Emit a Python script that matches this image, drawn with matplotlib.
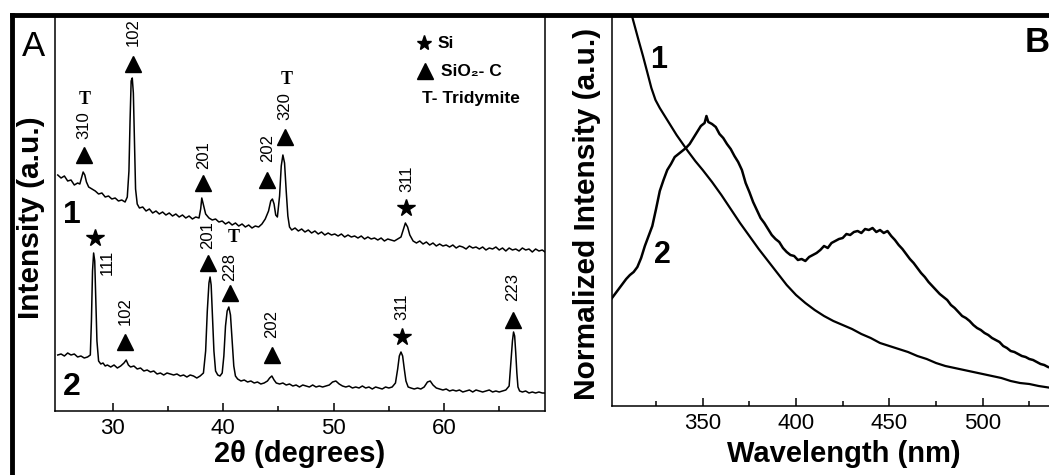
import matplotlib
matplotlib.use('Agg')
import matplotlib.pyplot as plt
from matplotlib.lines import Line2D

plt.rcParams['font.family'] = ['Liberation Sans', 'DejaVu Sans']
plt.rcParams['font.size'] = 14

# ---- Panel A: XRD patterns (intensity in a.u.) ----
two_theta_1 = [25.0, 25.3, 25.6, 25.9, 26.2, 26.5, 26.8, 27.0, 27.15, 27.3, 27.45, 27.6, 27.8, 28.1,
               28.4, 28.7, 29.0, 29.3, 29.6, 29.9, 30.2, 30.5, 30.8, 31.1, 31.3, 31.45, 31.55, 31.65,
               31.75, 31.85, 31.95, 32.05, 32.2, 32.4, 32.7, 33.0, 33.3, 33.6, 33.9, 34.2, 34.5, 34.8,
               35.1, 35.4, 35.7, 36.0, 36.3, 36.6, 36.9, 37.2, 37.5, 37.8, 37.95, 38.05, 38.2, 38.4,
               38.7, 39.0, 39.3, 39.6, 39.9, 40.2, 40.5, 40.8, 41.1, 41.4, 41.7, 42.0, 42.3, 42.6,
               42.9, 43.2, 43.5, 43.8, 44.1, 44.3, 44.45, 44.6, 44.75, 44.9, 45.1, 45.25, 45.4, 45.55,
               45.7, 45.85, 46.0, 46.2, 46.5, 46.8, 47.1, 47.4, 47.7, 48.0, 48.3, 48.6, 48.9, 49.2,
               49.5, 49.8, 50.1, 50.4, 50.7, 51.0, 51.3, 51.6, 51.9, 52.2, 52.5, 52.8, 53.1, 53.4,
               53.7, 54.0, 54.3, 54.6, 54.9, 55.2, 55.5, 55.8, 56.1, 56.3, 56.5, 56.7, 56.9, 57.2,
               57.5, 57.8, 58.1, 58.4, 58.7, 59.0, 59.3, 59.6, 59.9, 60.2, 60.5, 60.8, 61.1, 61.4,
               61.7, 62.0, 62.3, 62.6, 62.9, 63.2, 63.5, 63.8, 64.1, 64.4, 64.7, 65.0, 65.3, 65.6,
               65.9, 66.2, 66.5, 66.8, 67.1, 67.4, 67.7, 68.0, 68.3, 68.6, 68.9, 69.15]
intensity_1 = [236, 233, 235, 230, 231, 226, 228, 227, 233, 239, 236, 229, 224, 222,
               220, 217, 218, 214, 215, 212, 213, 210, 211, 209, 214, 240, 290, 330,
               333, 318, 270, 222, 207, 203, 204, 200, 202, 198, 200, 197, 199, 196,
               198, 195, 197, 194, 196, 193, 195, 192, 194, 193, 202, 213, 206, 197,
               193, 191, 192, 189, 190, 187, 189, 186, 188, 185, 187, 184, 186, 183,
               185, 184, 187, 192, 200, 210, 212, 207, 196, 194, 215, 245, 256, 248,
               220, 195, 184, 181, 183, 180, 182, 179, 181, 178, 180, 177, 179, 176,
               178, 176, 177, 175, 177, 174, 176, 174, 175, 173, 175, 172, 174, 172,
               173, 171, 173, 170, 172, 171, 170, 172, 174, 181, 188, 184, 176, 170,
               168, 170, 167, 169, 166, 168, 165, 167, 165, 166, 164, 166, 163, 165,
               164, 162, 165, 163, 164, 162, 164, 161, 163, 162, 164, 161, 163, 160,
               163, 161, 162, 160, 163, 161, 162, 159, 162, 160, 161, 159]

two_theta_2 = [25.0, 25.3, 25.6, 25.9, 26.2, 26.5, 26.8, 27.1, 27.4, 27.7, 27.95, 28.05, 28.15, 28.25,
               28.35, 28.45, 28.55, 28.7, 28.9, 29.1, 29.3, 29.5, 29.8, 30.1, 30.4, 30.7, 31.0, 31.2,
               31.4, 31.6, 31.9, 32.2, 32.5, 32.8, 33.1, 33.4, 33.7, 34.0, 34.3, 34.6, 34.9, 35.2,
               35.5, 35.8, 36.1, 36.4, 36.7, 37.0, 37.3, 37.6, 37.9, 38.2, 38.4, 38.55, 38.7, 38.8,
               38.9, 39.0, 39.15, 39.3, 39.5, 39.7, 39.9, 40.05, 40.2, 40.35, 40.5, 40.65, 40.8, 40.95,
               41.1, 41.3, 41.6, 41.9, 42.2, 42.5, 42.8, 43.1, 43.4, 43.7, 44.0, 44.2, 44.4, 44.6,
               44.8, 45.1, 45.4, 45.7, 46.0, 46.3, 46.6, 46.9, 47.2, 47.5, 47.8, 48.1, 48.4, 48.7,
               49.0, 49.3, 49.6, 49.9, 50.2, 50.5, 50.8, 51.1, 51.4, 51.7, 52.0, 52.3, 52.6, 52.9,
               53.2, 53.5, 53.8, 54.1, 54.4, 54.7, 55.0, 55.3, 55.6, 55.8, 55.95, 56.1, 56.25, 56.4,
               56.55, 56.75, 57.0, 57.3, 57.6, 57.9, 58.2, 58.5, 58.75, 59.0, 59.3, 59.6, 59.9, 60.2,
               60.5, 60.8, 61.1, 61.4, 61.7, 62.0, 62.3, 62.6, 62.9, 63.2, 63.5, 63.8, 64.1, 64.4,
               64.7, 65.0, 65.3, 65.6, 65.9, 66.05, 66.2, 66.3, 66.4, 66.5, 66.6, 66.7, 66.85, 67.1,
               67.4, 67.7, 68.0, 68.3, 68.6, 68.9, 69.15]
intensity_2 = [56, 57, 55, 58, 56, 57, 54, 55, 53, 54, 56, 90, 140, 158,
               150, 110, 70, 50, 47, 48, 45, 46, 44, 46, 43, 45, 48, 51,
               46, 44, 45, 42, 43, 40, 41, 39, 40, 37, 38, 36, 38, 37,
               36, 37, 35, 36, 34, 36, 35, 33, 35, 38, 60, 100, 128, 134,
               126, 100, 60, 40, 36, 35, 38, 55, 85, 100, 104, 96, 70, 45,
               35, 32, 30, 31, 29, 30, 28, 29, 27, 28, 30, 33, 35, 31,
               28, 27, 28, 26, 27, 25, 26, 24, 26, 25, 24, 26, 24, 25,
               24, 25, 26, 29, 30, 27, 25, 24, 25, 23, 24, 23, 25, 23,
               24, 22, 24, 23, 22, 24, 23, 24, 28, 42, 55, 59, 55, 42,
               30, 24, 23, 22, 23, 22, 24, 29, 30, 26, 23, 22, 21, 22,
               20, 21, 20, 21, 19, 20, 21, 19, 21, 20, 19, 20, 21, 19,
               20, 19, 20, 21, 25, 48, 70, 79, 75, 58, 38, 24, 20, 19,
               20, 18, 19, 18, 19, 18, 18]

# peak labels: (2theta, marker height, text, text height)
peaks_1 = [(27.35, 256, '310', 286), (31.8, 347, '102', 379), (38.2, 228, '201', 256),
           (44.0, 231, '202', 263), (45.6, 274, '320', 305)]
si_peaks_1 = [(56.6, 203, '311', 232)]
peaks_2 = [(31.1, 69, '102', 100), (38.6, 148, '201', 176), (40.6, 118, '228', 144),
           (44.4, 56, '202', 87), (66.25, 91, '223', 124)]
si_peaks_2 = [(28.35, 173, '111', 149), (56.15, 74, '311', 104)]
tridymite_marks = [(27.45, 311), (45.75, 331), (40.95, 173)]

# ---- Panel B: normalized PL spectra ----
wl_1 = [310, 312.4, 315.6, 318, 320.4, 322.5, 324.7, 327, 330, 333, 336, 339, 342, 346, 350, 355,
        360, 365, 370, 375, 380, 385, 390, 395, 400, 405, 410, 415, 420, 425, 430, 435, 440,
        445, 450, 455, 460, 465, 470, 475, 480, 485, 490, 495, 500, 505, 510, 515, 520, 525,
        530, 537]
pl_1 = [405, 388, 366, 350, 333, 318, 306, 298, 289, 280, 271, 263, 255, 245, 236, 224,
        211, 197, 183, 170, 157, 145, 133, 121, 111, 103, 96, 90, 85, 81, 77, 72, 68,
        63, 60, 57, 54, 50, 47, 43, 40, 38, 36, 34, 32, 30, 28, 25, 23, 22,
        20, 18]

wl_2 = [301, 303, 305, 307, 309, 311, 313, 315, 317, 319, 321, 323, 325, 327, 329, 331, 333, 335,
        337, 339, 341, 343, 345, 347, 349, 351, 352, 353, 355, 357, 359, 361, 363, 365, 367, 369,
        371, 373, 375, 377, 379, 381, 383, 385, 387, 389, 391, 393, 395, 397, 399, 401, 403, 405,
        407, 409, 411, 413, 415, 417, 419, 421, 423, 425, 427, 429, 431, 433, 435, 437, 439, 441,
        443, 445, 447, 449, 451, 453, 455, 457, 459, 461, 463, 465, 467, 469, 471, 473, 475, 477,
        479, 481, 483, 485, 487, 489, 491, 493, 495, 497, 499, 501, 503, 505, 507, 509, 511, 513,
        515, 517, 519, 521, 523, 525, 527, 529, 531, 533, 535, 537]
pl_2 = [107, 112, 117, 122, 127, 131, 134, 139, 148, 160, 170, 180, 197, 215, 226, 236, 242, 249,
        252, 255, 258, 262, 268, 274, 280, 283, 290, 284, 282, 279, 272, 268, 262, 257, 250, 244,
        236, 223, 214, 204, 196, 188, 183, 177, 171, 167, 164, 158, 154, 151, 150, 146, 147, 145,
        149, 151, 153, 156, 160, 158, 163, 165, 167, 168, 172, 171, 174, 175, 173, 177, 176, 178,
        174, 176, 173, 175, 170, 166, 161, 157, 152, 147, 143, 138, 133, 129, 124, 120, 116, 112,
        109, 106, 101, 98, 94, 90, 88, 85, 81, 78, 76, 73, 71, 68, 66, 64, 60, 58,
        55, 54, 52, 50, 49, 47, 46, 44, 42, 41, 39, 38]

W, H = 1049, 475
fig = plt.figure(figsize=(W / 100, H / 100), dpi=100)


def px_box(l, t, r, b):
    return [l / W, 1 - b / H, (r - l) / W, (b - t) / H]


axA = fig.add_axes(px_box(55, 16, 545, 411))
axB = fig.add_axes(px_box(612, 16, 1076, 406))

# XRD curves
axA.plot(two_theta_1, intensity_1, color='black', lw=1.1)
axA.plot(two_theta_2, intensity_2, color='black', lw=1.1)
axA.set_xlim(24.75, 69.15)
axA.set_ylim(0, 395)

for x, ym, txt, yt in peaks_1 + peaks_2:
    axA.plot(x, ym, marker='^', ms=12, color='black', ls='none')
    axA.text(x, yt, txt, rotation=90, ha='center', va='center', fontsize=12)
for x, ym, txt, yt in si_peaks_1 + si_peaks_2:
    axA.plot(x, ym, marker='*', ms=13, color='black', ls='none')
    if txt == '111':
        axA.text(x + 1.1, yt, txt, rotation=90, ha='center', va='center', fontsize=12)
    else:
        axA.text(x, yt, txt, rotation=90, ha='center', va='center', fontsize=12)
for x, y in tridymite_marks:
    axA.text(x, y, 'T', ha='center', va='center', fontsize=13, fontweight='bold',
             family='Liberation Serif')

# legend box of panel A
axA.plot(58.2, 368, marker='*', ms=11, color='black', ls='none')
axA.text(59.45, 368, 'Si', ha='left', va='center', fontsize=12.5, fontweight='bold')
axA.plot(58.3, 340, marker='^', ms=11, color='black', ls='none')
axA.text(59.75, 340, 'SiO\u2082- C', ha='left', va='center', fontsize=12.5, fontweight='bold')
axA.text(58.0, 313, 'T- Tridymite', ha='left', va='center', fontsize=12.5, fontweight='bold')

axA.text(26.3, 196, '1', ha='center', va='center', fontsize=23, fontweight='bold')
axA.text(26.3, 24, '2', ha='center', va='center', fontsize=23, fontweight='bold')

axA.set_xticks([30, 40, 50, 60])
axA.set_xticks([35, 45, 55, 65], minor=True)
axA.set_yticks([])

# PL curves
axB.plot(wl_1, pl_1, color='black', lw=1.6)
axB.plot(wl_2, pl_2, color='black', lw=1.8)
axB.set_xlim(301.4, 550)
axB.set_ylim(0, 390)
axB.set_xticks([350, 400, 450, 500])
axB.set_xticks([325, 375, 425, 475, 525], minor=True)
axB.set_yticks([])
axB.text(326.6, 346, '1', ha='center', va='center', fontsize=22, fontweight='bold')
axB.text(328.2, 151, '2', ha='center', va='center', fontsize=22, fontweight='bold')
axB.text(529, 364, 'B', ha='center', va='center', fontsize=25, fontweight='bold')
axB.spines['right'].set_visible(False)

for ax in (axA, axB):
    ax.tick_params(axis='x', which='major', direction='in', length=6, width=1.1,
                   labelsize=16, pad=5)
    ax.tick_params(axis='x', which='minor', direction='in', length=3.5, width=1.1)
    for s in ax.spines.values():
        s.set_linewidth(1.1)

axA.set_xlabel('2\u03b8 (degrees)', fontsize=21, fontweight='bold')
axA.xaxis.set_label_coords(0.5, -29 / 395)
axB.set_xlabel('Wavelength (nm)', fontsize=21, fontweight='bold')
axB.xaxis.set_label_coords(0.5, -34 / 390)

fig.text(31 / W, 1 - 218 / H, 'Intensity (a.u.)', rotation=90, ha='center', va='center',
         fontsize=21.5, fontweight='bold')
fig.text(587 / W, 1 - 214 / H, 'Normalized Intensity (a.u.)', rotation=90, ha='center',
         va='center', fontsize=21.5, fontweight='bold')
fig.text(33 / W, 1 - 47 / H, 'A', ha='center', va='center', fontsize=25)

# outer frame (top and left edges)
fig.add_artist(Line2D([12 / W, 12 / W], [0, 1 - 15 / H], lw=3.5, color='black',
                      transform=fig.transFigure, solid_capstyle='projecting'))
fig.add_artist(Line2D([12 / W, 1], [1 - 15 / H, 1 - 15 / H], lw=3.5, color='black',
                      transform=fig.transFigure, solid_capstyle='projecting'))

fig.savefig('out.png', dpi=100, facecolor='white')
